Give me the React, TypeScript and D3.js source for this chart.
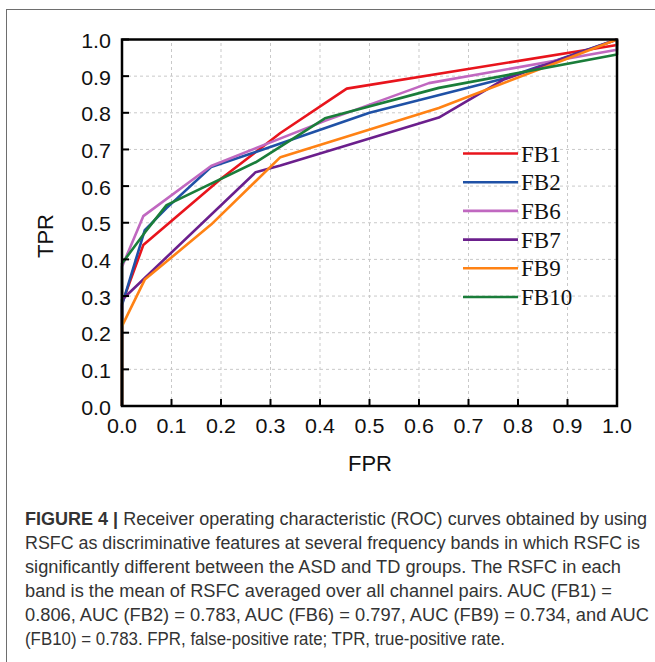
import React from 'react';
import * as d3 from 'd3';

// ROC points: [FPR, TPR]
const fb1 = [[0, 0], [0, 0.28], [0.043, 0.439], [0.2, 0.62], [0.32, 0.745], [0.454, 0.866], [1.0, 0.985], [1.0, 1.0]];
const fb2 = [[0, 0], [0, 0.275], [0.046, 0.48], [0.09, 0.54], [0.18, 0.652], [0.32, 0.716], [0.5, 0.8], [0.77, 0.893], [1.0, 1.0]];
const fb6 = [[0, 0], [0, 0.38], [0.043, 0.518], [0.18, 0.655], [0.41, 0.778], [0.62, 0.881], [1.0, 0.972], [1.0, 1.0]];
const fb7 = [[0, 0], [0, 0.29], [0.045, 0.348], [0.27, 0.638], [0.32, 0.656], [0.64, 0.787], [0.77, 0.89], [1.0, 1.0]];
const fb9 = [[0, 0], [0, 0.218], [0.046, 0.345], [0.18, 0.495], [0.32, 0.679], [0.64, 0.813], [1.0, 1.0]];
const fb10 = [[0, 0], [0, 0.389], [0.047, 0.475], [0.09, 0.548], [0.27, 0.665], [0.41, 0.785], [0.64, 0.868], [1.0, 0.959], [1.0, 1.0]];

const seriesNames = ['FB1', 'FB2', 'FB6', 'FB7', 'FB9', 'FB10'];
const seriesData = [fb1, fb2, fb6, fb7, fb9, fb10];
const seriesColors = ['#e8141c', '#1f51a6', '#c068c0', '#6b1f8c', '#ff8214', '#1a7d3a'];

const tickValues = [0, 0.1, 0.2, 0.3, 0.4, 0.5, 0.6, 0.7, 0.8, 0.9, 1.0];

const captionLines = [
  { bold: 'FIGURE 4 | ', text: 'Receiver operating characteristic (ROC) curves obtained by using', w: 622 },
  { bold: '', text: 'RSFC as discriminative features at several frequency bands in which RSFC is', w: 615 },
  { bold: '', text: 'significantly different between the ASD and TD groups. The RSFC in each', w: 596 },
  { bold: '', text: 'band is the mean of RSFC averaged over all channel pairs. AUC (FB1) =', w: 587 },
  { bold: '', text: '0.806, AUC (FB2) = 0.783, AUC (FB6) = 0.797, AUC (FB9) = 0.734, and AUC', w: 624 },
  { bold: '', text: '(FB10) = 0.783. FPR, false-positive rate; TPR, true-positive rate.', w: 480 },
];

const App = () => {
  const margin = { left: 122, top: 39.5 };
  const width = 495;
  const height = 366.5;

  const x = d3.scaleLinear().domain([0, 1]).range([margin.left, margin.left + width]);
  const y = d3.scaleLinear().domain([0, 1]).range([margin.top + height, margin.top]);

  const line = d3.line<number[]>()
    .x(d => x(d[0]))
    .y(d => y(d[1]));

  const tickFont = '"Liberation Sans", Arial, sans-serif';

  return (
    <svg
      width={655}
      height={662}
      style={{ position: 'absolute', left: 0, top: 0, background: '#fff' }}
    >
      {/* figure frame */}
      <rect x={6.5} y={9.5} width={700} height={700} fill="none" stroke="#6e6e6e" strokeWidth={1} />

      {/* grid */}
      {tickValues.slice(1, -1).map(t => (
        <g key={'g' + t}>
          <line x1={x(t)} x2={x(t)} y1={y(0)} y2={y(1)} stroke="#c9c9c9" strokeWidth={1} strokeDasharray="3,3" />
          <line x1={x(0)} x2={x(1)} y1={y(t)} y2={y(t)} stroke="#c9c9c9" strokeWidth={1} strokeDasharray="3,3" />
        </g>
      ))}

      {/* curves */}
      {seriesData.map((d, i) => (
        <path key={seriesNames[i]} d={line(d) || ''} fill="none" stroke={seriesColors[i]} strokeWidth={2.6} strokeLinejoin="round" />
      ))}

      {/* frame + ticks */}
      <rect x={x(0)} y={y(1)} width={width} height={height} fill="none" stroke="#000" strokeWidth={2.5} />
      {tickValues.map(t => (
        <g key={'t' + t}>
          <line x1={x(t)} x2={x(t)} y1={y(0)} y2={y(0) - 7} stroke="#000" strokeWidth={2} />
          <line x1={x(0)} x2={x(0) + 7} y1={y(t)} y2={y(t)} stroke="#000" strokeWidth={2} />
          <text
            transform={`translate(${x(t)},${y(0) + 26.5}) scale(1.1,1)`}
            textAnchor="middle"
            fontFamily={tickFont}
            fontSize={19.5}
            fill="#111"
          >
            {t.toFixed(1)}
          </text>
          <text
            transform={`translate(111,${y(t) + 8.5}) scale(1.1,1)`}
            textAnchor="end"
            fontFamily={tickFont}
            fontSize={19.5}
            fill="#111"
          >
            {t.toFixed(1)}
          </text>
        </g>
      ))}

      {/* axis titles */}
      <text x={370} y={471} textAnchor="middle" fontFamily={tickFont} fontSize={22} fill="#111">FPR</text>
      <text transform="translate(53,236) rotate(-90)" textAnchor="middle" fontFamily={tickFont} fontSize={22} fill="#111">TPR</text>

      {/* legend */}
      {seriesNames.map((name, i) => {
        const ly = 153.5 + i * 28.7;
        return (
          <g key={'l' + name}>
            <line x1={463} x2={518} y1={ly} y2={ly} stroke={seriesColors[i]} strokeWidth={2.6} />
            <text x={521} y={ly + 8} fontFamily='"Liberation Serif", "Times New Roman", serif' fontSize={23} fill="#111">{name}</text>
          </g>
        );
      })}

      {/* caption */}
      {captionLines.map((c, i) => (
        <text
          key={'c' + i}
          x={25}
          y={525 + i * 24}
          fontFamily='"Liberation Sans Narrow", "Arial Narrow", "Liberation Sans", sans-serif'
          fontSize={17.5}
          fill="#333"
          textLength={c.w}
          lengthAdjust="spacingAndGlyphs"
        >
          {c.bold && <tspan fontWeight="bold">{c.bold}</tspan>}
          {c.text}
        </text>
      ))}
    </svg>
  );
};

export default App;
